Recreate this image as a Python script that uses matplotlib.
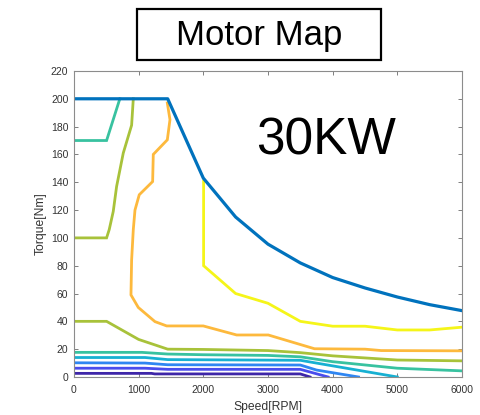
import matplotlib
matplotlib.use("Agg")
import matplotlib.pyplot as plt
from matplotlib.patches import Rectangle

plt.rcParams['font.family'] = ['Liberation Sans', 'DejaVu Sans']

# ---- data (speed in RPM, torque in Nm) ----
env_speed = [0, 1450, 2000, 2500, 3000, 3500, 4000, 4500, 5000, 5500, 6000]
env_torque = [200, 200, 143, 115, 95.5, 82, 71.5, 64, 57.5, 52, 47.7]

navy_speed = [0, 1200, 1250, 3500, 3650]
navy_torque = [2.6, 2.6, 2.2, 2.2, 0]

violet_speed = [0, 1100, 1450, 3500, 3930]
violet_torque = [6.3, 6.3, 5.5, 5.5, 0]

blue_speed = [0, 1100, 1450, 3500, 3750, 4400]
blue_torque = [10.2, 10.0, 8.8, 8.6, 5.0, 0]

cyan_speed = [0, 1100, 1450, 3500, 5000]
cyan_torque = [14.0, 14.0, 12.5, 12.0, 0]

teal_lo_speed = [0, 1050, 1450, 2000, 3000, 3500, 4000, 5000, 6000]
teal_lo_torque = [17.7, 17.7, 16.5, 16.0, 15.5, 14.5, 11.0, 6.3, 4.4]
teal_hi_speed = [0, 505, 710]
teal_hi_torque = [170, 170, 200]

green_lo_speed = [0, 505, 1000, 1450, 2000, 3000, 3500, 4000, 5000, 6000]
green_lo_torque = [40, 40, 27, 20, 19.8, 19, 17.5, 15.2, 12.2, 11.6]
green_hi_speed = [0, 505, 546, 608, 660, 763, 892, 918]
green_hi_torque = [100, 100, 106, 119, 137, 161, 181, 200]

orange_speed = [1444, 1485, 1444, 1227, 1217, 1010, 944, 918, 892, 882, 995,
                1253, 1434, 2000, 2516, 3005, 3720, 4500, 4750, 6000]
orange_torque = [197, 185, 170.5, 160, 140.5, 131, 120, 106, 84, 59, 50,
                 39.8, 36.7, 36.7, 30.2, 30.2, 20.3, 20.0, 19.0, 18.8]

yellow_speed = [2005, 2005, 2500, 3000, 3500, 4000, 4500, 5000, 5500, 6000]
yellow_torque = [141, 80, 60, 53, 40, 36.5, 36.5, 33.8, 33.8, 35.8]

# ---- figure ----
fig = plt.figure(figsize=(4.8, 4.15), dpi=100)
ax = fig.add_axes([0.154, 0.0916, 0.8085, 0.7374])

lines = [
    (navy_speed, navy_torque, '#3e26a8'),
    (violet_speed, violet_torque, '#4a4cec'),
    (blue_speed, blue_torque, '#2f86f2'),
    (cyan_speed, cyan_torque, '#17b0d2'),
    (teal_lo_speed, teal_lo_torque, '#38c2a0'),
    (teal_hi_speed, teal_hi_torque, '#38c2a0'),
    (green_lo_speed, green_lo_torque, '#a8c23a'),
    (green_hi_speed, green_hi_torque, '#a8c23a'),
    (orange_speed, orange_torque, '#fdb93d'),
    (yellow_speed, yellow_torque, '#f5f519'),
]
for xs, ys, c in lines:
    ax.plot(xs, ys, color=c, lw=2.0, solid_joinstyle='miter')

ax.plot(env_speed, env_torque, color='#0072bd', lw=2.3)

ax.set_xlim(0, 6000)
ax.set_ylim(0, 220)
ax.set_xticks(range(0, 6001, 1000))
ax.set_yticks(range(0, 221, 20))
ax.tick_params(direction='in', top=True, right=True, length=3, width=0.7,
               labelsize=7.5, colors='#7f7f7f', labelcolor='#333333')
ax.tick_params(axis='x', pad=6)
ax.tick_params(axis='y', pad=4)
for s in ax.spines.values():
    s.set_color('#8c8c8c')
    s.set_linewidth(0.8)

ax.set_xlabel('Speed[RPM]', fontsize=8.7, color='#333333', labelpad=4)
ax.set_ylabel('Torque[Nm]', fontsize=8.7, color='#333333', labelpad=3)

ax.text(3900, 170, '30KW', fontsize=37, ha='center', va='center', color='black')

# title box
W, H = 480.0, 415.0
fig.patches.append(Rectangle((137 / W, 1 - 60 / H), (381 - 137) / W, (60 - 9) / H,
                             transform=fig.transFigure, fill=False,
                             edgecolor='black', lw=1.6))
fig.text(259 / W, 1 - 35 / H, 'Motor Map', fontsize=25, ha='center', va='center')

fig.savefig('out.png', dpi=100)
